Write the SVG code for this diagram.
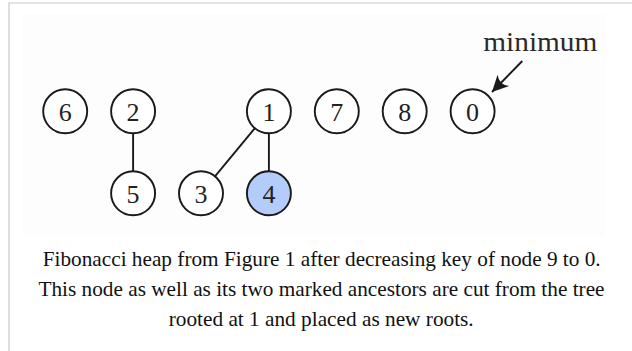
<svg xmlns="http://www.w3.org/2000/svg" width="632" height="351" viewBox="0 0 632 351">
  <style>
    .node circle { fill: #ffffff; stroke: #1a1a1a; stroke-width: 1.9; }
    .node.marked circle { fill: #b4ccfa; }
    .node text { font-size: 26px; fill: #222222; text-anchor: middle; }
    .edge { stroke: #1a1a1a; stroke-width: 1.9; fill: none; }
    .caption { font-size: 21px; fill: #111111; text-anchor: middle; }
    .label { font-size: 28px; fill: #2a2a2a; }
    .frame { stroke: #c8c8c8; stroke-width: 1.2; fill: none; }
  </style>
  <defs>
    <marker id="arrowhead" markerUnits="userSpaceOnUse" markerWidth="20" markerHeight="20" viewBox="-14 -8 16 16" refX="0" refY="0" orient="auto">
      <path d="M0,0 L-13,-6.5 Q-8,0 -13,6.5 Z" fill="#1a1a1a"/>
    </marker>
  </defs>
  <rect width="632" height="351" fill="#ffffff"/>
  <rect x="23" y="14" width="582" height="222" fill="#fdfdfd"/>
  <path class="frame" d="M9,351 L9,3 L632,3"/>

  <g id="connectors">
    <line class="edge" x1="133.1" y1="133.3" x2="133.1" y2="171.3"/>
    <line class="edge" x1="254.9" y1="128.2" x2="215" y2="176.4"/>
    <line class="edge" x1="268.9" y1="133.3" x2="268.9" y2="171.3"/>
    <line class="edge" x1="522.3" y1="61" x2="492" y2="92" marker-end="url(#arrowhead)"/>
  </g>

  <g font-family="Liberation Serif, DejaVu Serif, serif">
  <g id="node-6" class="node"><circle cx="65.2" cy="111.3" r="22"/><text x="65.2" y="120.5">6</text></g>
  <g id="node-2" class="node"><circle cx="133.1" cy="111.3" r="22"/><text x="133.1" y="120.5">2</text></g>
  <g id="node-1" class="node"><circle cx="268.9" cy="111.3" r="22"/><text x="268.9" y="120.5">1</text></g>
  <g id="node-7" class="node"><circle cx="336.8" cy="111.3" r="22"/><text x="336.8" y="120.5">7</text></g>
  <g id="node-8" class="node"><circle cx="404.7" cy="111.3" r="22"/><text x="404.7" y="120.5">8</text></g>
  <g id="node-0" class="node"><circle cx="472.6" cy="111.3" r="22"/><text x="472.6" y="120.5">0</text></g>
  <g id="node-5" class="node"><circle cx="133.1" cy="193.3" r="22"/><text x="133.1" y="202.5">5</text></g>
  <g id="node-3" class="node"><circle cx="201" cy="193.3" r="22"/><text x="201" y="202.5">3</text></g>
  <g id="node-4" class="node marked"><circle cx="268.9" cy="193.3" r="22"/><text x="268.9" y="202.5">4</text></g>

  <g id="label-minimum"><text class="label" x="483.3" y="51" textLength="114" lengthAdjust="spacingAndGlyphs">minimum</text></g>

  <g id="caption">
    <text class="caption" x="321.7" y="265.5" textLength="558" lengthAdjust="spacingAndGlyphs">Fibonacci heap from Figure 1 after decreasing key of node 9 to 0.</text>
    <text class="caption" x="321.5" y="295.5" textLength="566" lengthAdjust="spacingAndGlyphs">This node as well as its two marked ancestors are cut from the tree</text>
    <text class="caption" x="321.2" y="325.5" textLength="305" lengthAdjust="spacingAndGlyphs">rooted at 1 and placed as new roots.</text>
  </g>
  </g>
</svg>
